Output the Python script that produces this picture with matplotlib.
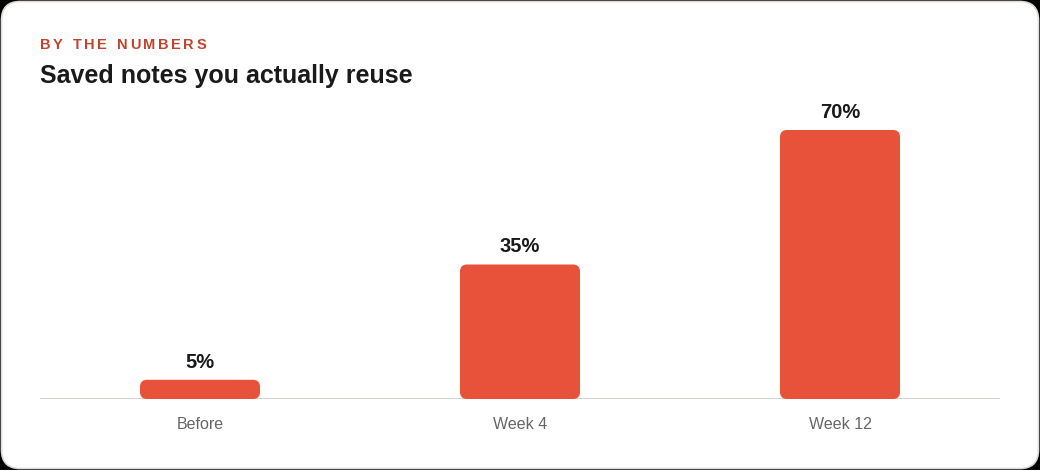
import matplotlib.pyplot as plt
from matplotlib.patches import FancyBboxPatch

plt.rcParams['font.family'] = ['Liberation Sans', 'DejaVu Sans']

categories = ['Before', 'Week 4', 'Week 12']
values = [5, 35, 70]
labels = ['5%', '35%', '70%']

BAR_COLOR = '#E8513A'
W, H = 1040, 470

fig = plt.figure(figsize=(W / 100, H / 100), dpi=100)
fig.patch.set_facecolor('black')

# Card background with rounded corners
card = FancyBboxPatch((1.5 / W, 1.5 / H), (W - 3) / W, (H - 3) / H,
                      boxstyle='round,pad=0,rounding_size=0.018',
                      mutation_aspect=W / H,
                      transform=fig.transFigure, facecolor='white',
                      edgecolor='#dedbd6', linewidth=1.2, zorder=-5)
fig.patches.append(card)

# Axes: x 40..1000, baseline y=399, top y=110
ax_left, ax_right = 40, 1000
ax_bottom, ax_top = 399, 110
ax = fig.add_axes([ax_left / W, (H - ax_bottom) / H,
                   (ax_right - ax_left) / W, (ax_bottom - ax_top) / H])
ax.set_zorder(2)
ax.set_facecolor('none')
px_per_pct = 269 / 70
ymax = (ax_bottom - ax_top) / px_per_pct
ax.set_xlim(-0.5, len(categories) - 0.5)
ax.set_ylim(0, ymax)

bar_w = 0.375
x_per_px = len(categories) / (ax_right - ax_left)
y_per_px = 1 / px_per_pct
radius_px = 7
for i, (v, lab) in enumerate(zip(values, labels)):
    bar = FancyBboxPatch((i - bar_w / 2, 0), bar_w, v,
                         boxstyle='round,pad=0,rounding_size=%f' % (radius_px * x_per_px),
                         mutation_aspect=y_per_px / x_per_px,
                         facecolor=BAR_COLOR, edgecolor='none', zorder=2)
    ax.add_patch(bar)
    ax.text(i, v + 8 * y_per_px, lab, ha='center', va='bottom',
            fontsize=14.5, fontweight='bold', color='#1a1a1a', clip_on=False)

ax.axhline(0, color='#d6d2cc', linewidth=1.5, zorder=1)
for s in ax.spines.values():
    s.set_visible(False)
ax.set_yticks([])
ax.set_xticks(range(len(categories)))
ax.set_xticklabels(categories, fontsize=11.5, color='#666666')
ax.tick_params(axis='x', length=0, pad=13)

# Header: letter-spaced kicker, drawn char by char
renderer = fig.canvas.get_renderer()
x_px = 40
for ch in 'BY THE NUMBERS':
    t = fig.text(x_px / W, 1 - 49 / H, ch, fontsize=10.5, fontweight='bold',
                 color='#C0432E', va='baseline')
    x_px += t.get_window_extent(renderer).width + 2.5
    if ch == ' ':
        x_px += 1

fig.text(40 / W, 1 - 83 / H, 'Saved notes you actually reuse', fontsize=18,
         fontweight='bold', color='#1a1a1a', va='baseline')

fig.savefig('out.png', dpi=100, facecolor=fig.get_facecolor())
